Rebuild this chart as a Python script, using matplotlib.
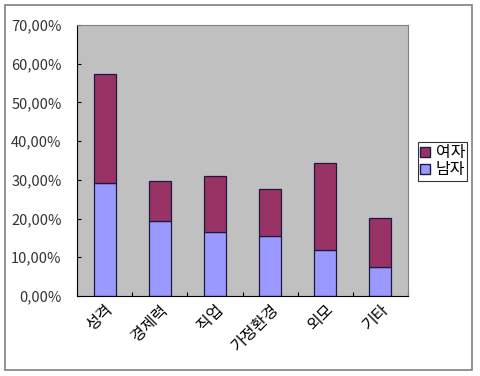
import matplotlib.pyplot as plt
import matplotlib.patches as mpatches
from matplotlib.ticker import FuncFormatter
import numpy as np

plt.rcParams['font.family'] = ['Noto Sans CJK KR', 'DejaVu Sans']

categories = ['성격', '경제력', '직업', '가정환경', '외모', '기타']
male = [29.2, 19.5, 16.6, 15.6, 11.8, 7.4]      # 남자
female = [28.2, 10.3, 14.4, 12.0, 22.5, 12.8]   # 여자
yticks = [0, 10, 20, 30, 40, 50, 60, 70]

c_male = '#9999FF'
c_female = '#993366'

fig = plt.figure(figsize=(4.8, 3.76), dpi=100)
fig.patch.set_facecolor('white')

# chart area border
fig.patches.append(mpatches.Rectangle((5 / 480, 1 - 370 / 376), 467 / 480, 365 / 376,
                                      transform=fig.transFigure, fill=False,
                                      edgecolor='#808080', linewidth=1.2))

ax = fig.add_axes([77 / 480, 1 - 296 / 376, 331 / 480, 271 / 376])
ax.set_facecolor('#C0C0C0')

x = np.arange(len(categories))
ax.bar(x, male, width=0.4, color=c_male, edgecolor='#1a1a40', linewidth=0.9, label='남자')
ax.bar(x, female, width=0.4, bottom=male, color=c_female, edgecolor='#1a1a40',
       linewidth=0.9, label='여자')

ax.set_xlim(-0.5, len(categories) - 0.5)
ax.set_ylim(0, 70)
ax.set_yticks(yticks)
ax.yaxis.set_major_formatter(FuncFormatter(lambda v, p: f'{v:.2f}%'.replace('.', ',')))
ax.tick_params(axis='y', direction='in', length=3, labelsize=10.5, colors='black',
               labelcolor='#333333', pad=11)

# category boundary ticks, labels at centers
ax.set_xticks(np.arange(len(categories) + 1) - 0.5)
ax.set_xticklabels([])
ax.set_xticks(x, minor=True)
ax.set_xticklabels(categories, minor=True, rotation=45, ha='right', rotation_mode='anchor',
                   fontsize=11.5)
ax.tick_params(axis='x', which='major', direction='in', length=3)
ax.tick_params(axis='x', which='minor', length=0, pad=4)

for side in ['top', 'right']:
    ax.spines[side].set_color('#808080')
for side in ['left', 'bottom']:
    ax.spines[side].set_color('black')

handles = [mpatches.Patch(facecolor=c_female, edgecolor='#1a1a40', label='여자'),
           mpatches.Patch(facecolor=c_male, edgecolor='#1a1a40', label='남자')]
leg = fig.legend(handles=handles, loc='upper left', bbox_to_anchor=(418 / 480, 1 - 142 / 376),
                 prop={'size': 11.5}, frameon=True, fancybox=False, borderpad=0.15,
                 handlelength=0.6, handleheight=0.6, handletextpad=0.35,
                 labelspacing=0.0, borderaxespad=0)
leg.get_frame().set_edgecolor('black')
leg.get_frame().set_linewidth(0.8)

fig.savefig('out.png', dpi=100)
